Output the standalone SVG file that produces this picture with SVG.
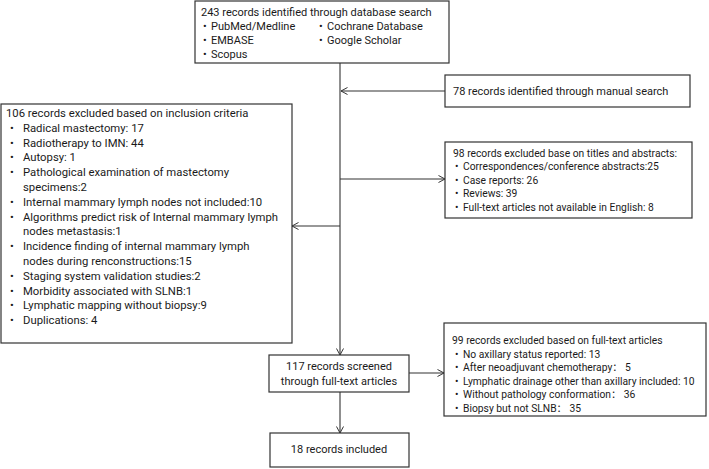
<svg xmlns="http://www.w3.org/2000/svg" width="709" height="469" viewBox="0 0 709 469">
<style>
text{font-family:Roboto,"Liberation Sans","Noto Sans CJK SC",sans-serif;font-size:11px;fill:#1a1a1a}
.c{text-anchor:middle}
.l{font-size:11.3px}
.r{font-size:10.3px}
.box{fill:#fff;stroke:#333;stroke-width:1.2}
.ln{stroke:#333;stroke-width:1.1;fill:none}
</style>
<defs>
<marker id="ah" viewBox="0 0 8 8" refX="7.5" refY="4" markerWidth="8" markerHeight="8" markerUnits="userSpaceOnUse" orient="auto">
<path d="M1,0.5 L7.5,4 L1,7.5" fill="none" stroke="#333" stroke-width="1"/>
</marker>
</defs>
<rect width="709" height="469" fill="#fff"/>
<g id="connectors">
<line class="ln" x1="340" y1="63" x2="340" y2="355" marker-end="url(#ah)"/>
<line class="ln" x1="445" y1="91" x2="341" y2="91" marker-end="url(#ah)"/>
<line class="ln" x1="340" y1="226" x2="292" y2="226" marker-end="url(#ah)"/>
<line class="ln" x1="340" y1="179" x2="445" y2="179" marker-end="url(#ah)"/>
<line class="ln" x1="409" y1="373" x2="444" y2="373" marker-end="url(#ah)"/>
<line class="ln" x1="340" y1="392" x2="340" y2="433" marker-end="url(#ah)"/>
</g>
<g id="db-search">
<rect class="box" x="195" y="1" width="254" height="62"/>
<text x="201" y="16">243 records identified through database search</text>
<text x="203" y="30">•</text><text x="211" y="30">PubMed/Medline</text>
<text x="203" y="44">•</text><text x="211" y="44">EMBASE</text>
<text x="203" y="58">•</text><text x="211" y="58">Scopus</text>
<text x="319" y="30">•</text><text x="327" y="30">Cochrane Database</text>
<text x="319" y="44">•</text><text x="327" y="44">Google Scholar</text>
</g>
<g id="manual-search">
<rect class="box" x="445" y="75" width="245" height="32"/>
<text x="453" y="95">78 records identified through manual search</text>
</g>
<g id="excluded-inclusion" class="l">
<rect class="box" x="1" y="104" width="291" height="239"/>
<text class="l" x="6" y="117">106  records excluded based on inclusion criteria</text>
<text class="l" x="10" y="131.8">•</text><text class="l" x="23" y="131.8">Radical mastectomy: 17</text>
<text class="l" x="10" y="146.6">•</text><text class="l" x="23" y="146.6">Radiotherapy to IMN: 44</text>
<text class="l" x="10" y="161.4">•</text><text class="l" x="23" y="161.4">Autopsy: 1</text>
<text class="l" x="10" y="176.2">•</text><text class="l" x="23" y="176.2">Pathological examination of mastectomy</text>
<text class="l" x="23" y="191">specimens:2</text>
<text class="l" x="10" y="205.8">•</text><text class="l" x="23" y="205.8">Internal mammary lymph nodes not included:10</text>
<text class="l" x="10" y="220.6">•</text><text class="l" x="23" y="220.6">Algorithms predict risk of Internal mammary lymph</text>
<text class="l" x="23" y="235.4">nodes  metastasis:1</text>
<text class="l" x="10" y="250.2">•</text><text class="l" x="23" y="250.2">Incidence finding of internal mammary lymph</text>
<text class="l" x="23" y="265">nodes during renconstructions:15</text>
<text class="l" x="10" y="279.8">•</text><text class="l" x="23" y="279.8">Staging system validation studies:2</text>
<text class="l" x="10" y="294.6">•</text><text class="l" x="23" y="294.6">Morbidity associated with SLNB:1</text>
<text class="l" x="10" y="309.4">•</text><text class="l" x="23" y="309.4">Lymphatic mapping without biopsy:9</text>
<text class="l" x="10" y="324.2">•</text><text class="l" x="23" y="324.2">Duplications: 4</text>
</g>
<g id="excluded-titles">
<rect class="box" x="445" y="142" width="247" height="76"/>
<text class="r" x="453" y="157">98 records excluded base on titles and abstracts:</text>
<text class="r" x="455" y="170">•</text><text class="r" x="463" y="170">Correspondences/conference abstracts:25</text>
<text class="r" x="455" y="183.5">•</text><text class="r" x="463" y="183.5">Case reports: 26</text>
<text class="r" x="455" y="197">•</text><text class="r" x="463" y="197">Reviews: 39</text>
<text class="r" x="455" y="210.5">•</text><text class="r" x="463" y="210.5">Full-text  articles not available in English: 8</text>
</g>
<g id="screened">
<rect class="box" x="269" y="355" width="140" height="37"/>
<text class="c" x="339" y="370">117 records screened</text>
<text class="c" x="339" y="385">through full-text articles</text>
</g>
<g id="excluded-fulltext">
<rect class="box" x="444" y="323" width="262" height="93"/>
<text class="r" x="452" y="344">99 records excluded based on  full-text articles</text>
<text class="r" x="455" y="357.5">•</text><text class="r" x="463" y="357.5">No axillary status reported: 13</text>
<text class="r" x="455" y="371">•</text><text class="r" x="463" y="371">After neoadjuvant chemotherapy： 5</text>
<text class="r" x="455" y="384.5">•</text><text class="r" x="463" y="384.5">Lymphatic drainage other than axillary included: 10</text>
<text class="r" x="455" y="398">•</text><text class="r" x="463" y="398">Without pathology conformation： 36</text>
<text class="r" x="455" y="411.5">•</text><text class="r" x="463" y="411.5">Biopsy but not SLNB： 35</text>
</g>
<g id="included">
<rect class="box" x="270" y="433" width="139" height="34"/>
<text class="c" x="339" y="453">18 records included</text>
</g>
</svg>
